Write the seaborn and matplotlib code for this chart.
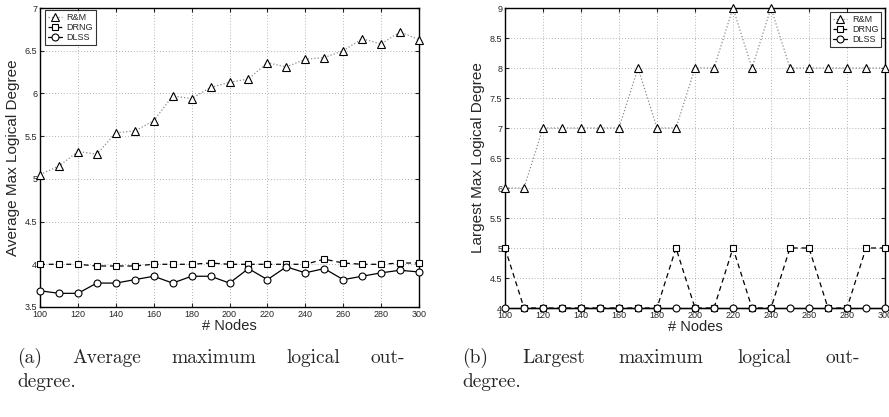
import numpy as np
import pandas as pd
import matplotlib
matplotlib.use("Agg")
import matplotlib.pyplot as plt
import seaborn as sns
from matplotlib.ticker import FuncFormatter, MultipleLocator

# ---------------- data ----------------
nodes = [100, 110, 120, 130, 140, 150, 160, 170, 180, 190, 200,
         210, 220, 230, 240, 250, 260, 270, 280, 290, 300]

avg_rm = [5.05, 5.15, 5.32, 5.29, 5.54, 5.56, 5.68, 5.97, 5.94, 6.07, 6.13,
          6.17, 6.36, 6.31, 6.40, 6.42, 6.50, 6.64, 6.58, 6.72, 6.63]
avg_drng = [4.00, 4.00, 4.00, 3.98, 3.98, 3.98, 4.00, 4.00, 4.00, 4.015, 4.00,
            4.00, 4.00, 4.00, 4.00, 4.06, 4.015, 4.00, 4.00, 4.015, 4.015]
avg_dlss = [3.69, 3.66, 3.66, 3.78, 3.78, 3.82, 3.86, 3.78, 3.86, 3.86, 3.78,
            3.95, 3.82, 3.97, 3.90, 3.95, 3.82, 3.86, 3.90, 3.93, 3.91]

lrg_rm = [6, 6, 7, 7, 7, 7, 7, 8, 7, 7, 8, 8, 9, 8, 9, 8, 8, 8, 8, 8, 8]
lrg_drng = [5, 4, 4, 4, 4, 4, 4, 4, 4, 5, 4, 4, 5, 4, 4, 5, 5, 4, 4, 5, 5]
lrg_dlss = [4] * 21

series_names = ["R&M", "DRNG", "DLSS"]
x_label = "# Nodes"
y_labels = ["Average Max Logical Degree", "Largest Max Logical Degree"]
caption_a = ["(a)", "Average", "maximum", "logical", "out-"]
caption_b = ["(b)", "Largest", "maximum", "logical", "out-"]
caption_tail = "degree."

# ---------------- style ----------------
sns.set_style("ticks")
plt.rcParams["font.family"] = ["Liberation Sans", "DejaVu Sans"]

W, H = 889, 417
fig = plt.figure(figsize=(W / 100, H / 100), dpi=100)


def px_axes(l, t, r, b):
    return fig.add_axes([l / W, 1 - b / H, (r - l) / W, (b - t) / H])


ax1 = px_axes(40, 8, 419, 307)
ax2 = px_axes(505, 8, 885, 308)

styles = [
    dict(marker="^", linestyle=":", color="#8a8a8a", mec="black", mfc="white",
         ms=5.5, mew=0.8, lw=0.9),
    dict(marker="s", linestyle=(0, (4, 3)), color="black", mec="black", mfc="white",
         ms=4.5, mew=0.8, lw=0.9),
    dict(marker="o", linestyle="-", color="black", mec="black", mfc="white",
         ms=5, mew=0.8, lw=0.9),
]

narrow = ["Liberation Sans Narrow", "Liberation Sans", "DejaVu Sans"]


def draw(ax, ys, ylim, ylabel, legend_loc, legend_anchor):
    for y, name, st in zip(ys, series_names, styles):
        df = pd.DataFrame({"x": nodes, "y": y})
        sns.lineplot(data=df, x="x", y="y", ax=ax, label=name, clip_on=False,
                     zorder=3, **st)
    ax.set_xlim(100, 300)
    ax.set_ylim(*ylim)
    ax.xaxis.set_major_locator(MultipleLocator(20))
    ax.yaxis.set_major_locator(MultipleLocator(0.5))
    ax.yaxis.set_major_formatter(FuncFormatter(lambda v, p: f"{v:g}"))
    ax.grid(True, linestyle=(0, (1, 2.5)), color="#9a9a9a", linewidth=0.6)
    ax.tick_params(direction="in", length=3, width=0.8, labelsize=6.5, pad=2,
                   top=True, right=True)
    for lab in ax.get_xticklabels() + ax.get_yticklabels():
        lab.set_family(narrow)
    for s in ax.spines.values():
        s.set_linewidth(1.0)
        s.set_color("black")
        s.set_visible(True)
    ax.set_xlabel(x_label, fontsize=10.5, labelpad=0, family=narrow)
    ax.set_ylabel(ylabel, fontsize=11, labelpad=3)
    leg = ax.legend(loc=legend_loc, bbox_to_anchor=legend_anchor, fontsize=6.5,
                    frameon=True, fancybox=False, edgecolor="black",
                    handlelength=1.6, handletextpad=0.5, borderpad=0.3,
                    labelspacing=0.15, borderaxespad=0)
    leg.get_frame().set_linewidth(0.8)
    leg.set_zorder(5)


draw(ax1, [avg_rm, avg_drng, avg_dlss], (3.5, 7), y_labels[0],
     "upper left", ((45 - 40) / 379, 1 - (10 - 8) / 299))
draw(ax2, [lrg_rm, lrg_drng, lrg_dlss], (4, 9), y_labels[1],
     "upper right", (1 - (885 - 881) / 380, 1 - (12 - 8) / 300))

# ---------------- captions (justified) ----------------
cap_fs = 14
fig.canvas.draw()
renderer = fig.canvas.get_renderer()


def justified(words, x0, x1, ypx):
    texts = [fig.text(x0 / W, 1 - ypx / H, w, family="cmr10", fontsize=cap_fs,
                      va="center", ha="left") for w in words]
    widths = [t.get_window_extent(renderer).width for t in texts]
    gap = ((x1 - x0) - sum(widths)) / (len(words) - 1)
    pos = x0
    for t, w in zip(texts, widths):
        t.set_x(pos / W)
        pos += w + gap


justified(caption_a, 17, 405, 358)
fig.text(17 / W, 1 - 382 / H, caption_tail, family="cmr10", fontsize=cap_fs,
         va="center", ha="left")
justified(caption_b, 462, 860, 358)
fig.text(462 / W, 1 - 382 / H, caption_tail, family="cmr10", fontsize=cap_fs,
         va="center", ha="left")

fig.savefig("out.png", dpi=100)
